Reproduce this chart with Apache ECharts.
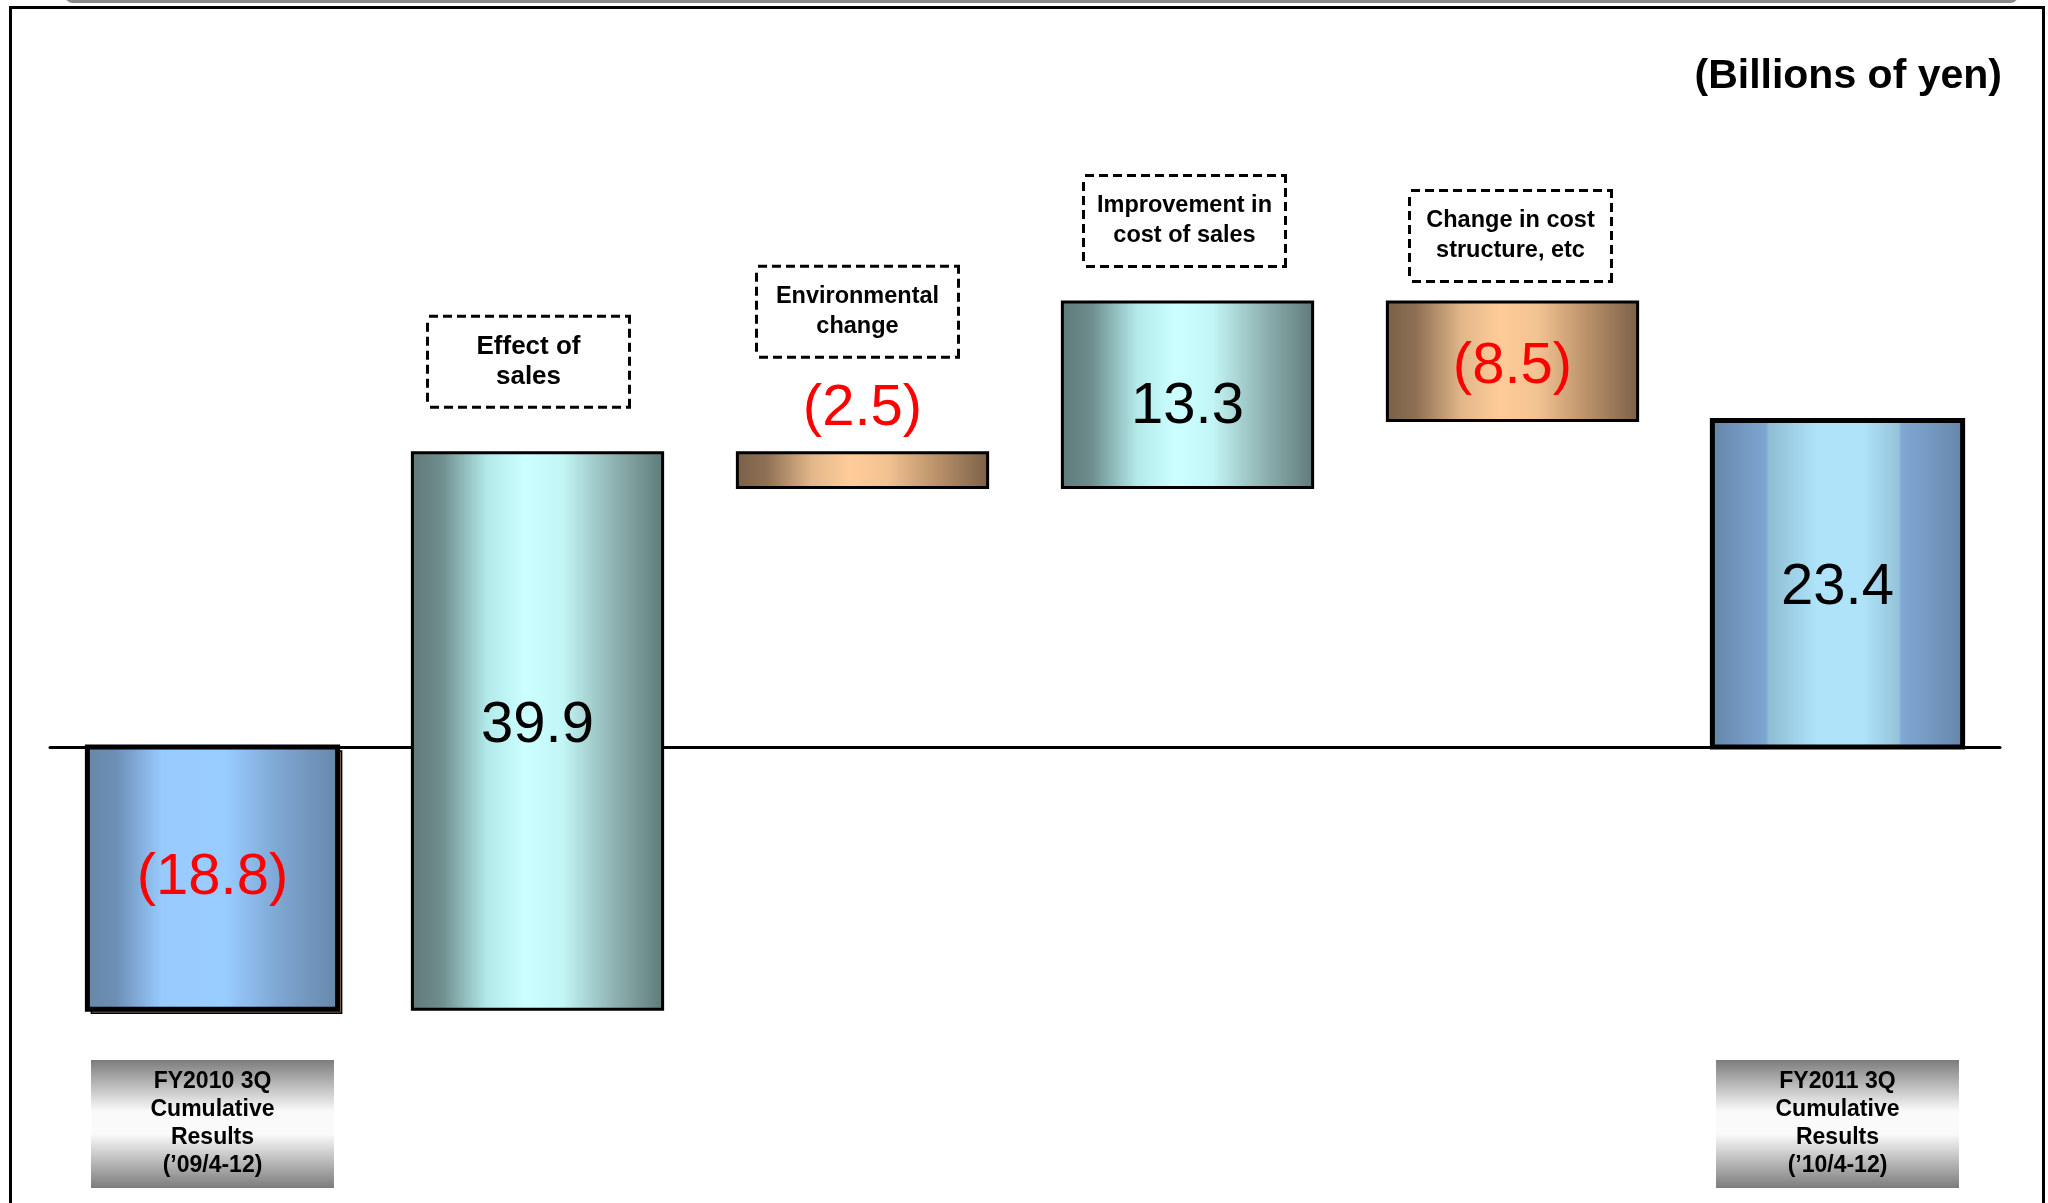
<!DOCTYPE html>
<html>
<head>
<meta charset="utf-8">
<script src="https://cdn.jsdelivr.net/npm/echarts@6/dist/echarts.min.js"></script>
<style>
html,body{margin:0;padding:0;background:#fff;}
#chart{width:2048px;height:1203px;}
</style>
</head>
<body>
<div id="chart"></div>
<script>
// ---- data ----
const categories = [
  'FY2010 3Q\nCumulative\nResults\n(\u201909/4-12)',
  'Effect of\nsales',
  'Environmental\nchange',
  'Improvement in\ncost of sales',
  'Change in cost\nstructure, etc',
  'FY2011 3Q\nCumulative\nResults\n(\u201910/4-12)'
];
const changes = [-18.8, 39.9, -2.5, 13.3, -8.5, 23.4];
const unitLabel = '(Billions of yen)';

// ---- derived waterfall ranges ----
const n = changes.length;
const ranges = [];
let running = 0;
changes.forEach(function (v, i) {
  if (i === 0 || i === n - 1) {
    ranges.push([i, 0, v]);
    running = v;
  } else {
    const lo = running;
    const hi = Math.round((running + v) * 10) / 10;
    ranges.push([i, lo, hi]);
    running = hi;
  }
});

const FONT = '"Liberation Sans", Arial, Helvetica, sans-serif';
function hg(stops) {
  return new echarts.graphic.LinearGradient(0, 0, 1, 0, stops.map(function (s) { return { offset: s[0], color: s[1] }; }));
}
const blueStart = hg([[0, '#6688AA'], [0.12, '#6C8EB4'], [0.3, '#98CAFD'], [0.55, '#99CCFF'], [0.75, '#7FA8D4'], [1, '#6586A8']]);
const blueEnd = hg([[0, '#6585A8'], [0.22, '#7DA5D2'], [0.23, '#8FBDD3'], [0.42, '#AEE3FA'], [0.6, '#AEE3FA'], [0.74, '#95C3D9'], [0.75, '#80A8D6'], [1, '#6585A8']]);
const teal = hg([[0, '#5E7A79'], [0.12, '#6E8D8C'], [0.3, '#B2E9E9'], [0.45, '#CCFFFF'], [0.6, '#C2F5F5'], [0.8, '#8FB3B2'], [1, '#5E7A79']]);
const brown = hg([[0, '#7A6048'], [0.12, '#8E7054'], [0.3, '#E2B78A'], [0.45, '#FFCC99'], [0.6, '#F2C291'], [0.8, '#B89068'], [1, '#7A6048']]);

function fmt(v) {
  return v < 0 ? '(' + Math.abs(v).toFixed(1) + ')' : v.toFixed(1);
}

// layout tuning (pixels)
const noteOffsets = { 1: [-9, -91], 2: [-5, -141], 3: [-3, -81], 4: [-2, -66] };
const noteFontSize = { 1: 26, 2: 23.5, 3: 23.5, 4: 23.5 };
const valueLabelDy = [0, -5, 0, 12, 6, 4];

const chart = echarts.init(document.getElementById('chart'), null, { renderer: 'canvas' });

const option = {
  animation: false,
  backgroundColor: '#ffffff',
  title: {
    text: unitLabel,
    right: 46,
    top: 56,
    padding: 0,
    textStyle: { fontFamily: FONT, fontSize: 41, fontWeight: 'bold', color: '#000' }
  },
  graphic: [
    { type: 'rect', z: 0, shape: { x: 65, y: -12, width: 1953, height: 15, r: 8 }, style: { fill: '#8a8a8a' } },
    { type: 'rect', z: 0, shape: { x: 10.5, y: 7.5, width: 2033, height: 1300 }, style: { fill: 'none', stroke: '#000', lineWidth: 3 } }
  ],
  grid: { left: 50, right: 48, top: 189, bottom: 149.1 },
  xAxis: [
    {
      type: 'category',
      data: categories,
      axisLine: { onZero: true, lineStyle: { color: '#000', width: 3 } },
      axisTick: { show: false },
      axisLabel: { show: false },
      splitLine: { show: false }
    },
    {
      type: 'category',
      data: categories,
      position: 'bottom',
      axisLine: { show: false, onZero: false },
      axisTick: { show: false },
      splitLine: { show: false },
      axisLabel: {
        show: true,
        interval: function (index) { return index === 0 || index === n - 1; },
        margin: 6,
        fontFamily: FONT,
        fontSize: 23,
        fontWeight: 'bold',
        color: '#000',
        lineHeight: 28,
        width: 243,
        padding: [8, 0, 8, 0],
        align: 'center',
        overflow: 'none',
        backgroundColor: new echarts.graphic.LinearGradient(0, 0, 0, 1, [
          { offset: 0, color: '#7c7c7c' },
          { offset: 0.4, color: '#fafafa' },
          { offset: 0.58, color: '#fafafa' },
          { offset: 1, color: '#7c7c7c' }
        ])
      }
    }
  ],
  yAxis: { type: 'value', min: -22, max: 40, show: false, splitLine: { show: false } },
  series: [
    {
      type: 'custom',
      name: 'waterfall',
      xAxisIndex: 0,
      yAxisIndex: 0,
      z: 3,
      encode: { x: 0, y: [1, 2] },
      data: ranges,
      renderItem: function (params, api) {
        const i = api.value(0);
        const lo = api.value(1), hi = api.value(2);
        const a = api.coord([i, Math.max(lo, hi)]);
        const b = api.coord([i, Math.min(lo, hi)]);
        const w = api.size([1, 0])[0] * 0.77;
        const x = a[0] - w / 2, y = a[1], h = b[1] - a[1];
        const isTotal = i === 0 || i === n - 1;
        const v = changes[i];
        const fill = i === 0 ? blueStart : (i === n - 1 ? blueEnd : (v > 0 ? teal : brown));
        const small = h < 60;
        const children = [];
        if (i === 0) {
          children.push({ type: 'rect', shape: { x: x + 4, y: y + 4, width: w, height: h },
            style: { fill: '#9C7A55', stroke: '#000', lineWidth: 1.5 } });
        }
        children.push({
          type: 'rect',
          shape: { x: x, y: y, width: w, height: h },
          style: { fill: fill, stroke: '#000', lineWidth: isTotal ? 5 : 3 },
          textContent: {
            style: { text: fmt(v), fill: v < 0 ? '#FF0000' : '#000', font: '58px ' + FONT }
          },
          textConfig: small ? { position: 'top', distance: 13 } : { position: 'inside', offset: [0, valueLabelDy[i]] }
        });
        return { type: 'group', children: children };
      }
    },
    {
      type: 'scatter',
      name: 'notes',
      xAxisIndex: 0,
      yAxisIndex: 0,
      z: 4,
      symbol: 'rect',
      symbolSize: 1,
      itemStyle: { color: 'rgba(0,0,0,0)', opacity: 1 },
      silent: true,
      data: ranges.filter(function (r) { return r[0] !== 0 && r[0] !== n - 1; }).map(function (r) {
        return {
          value: [r[0], Math.max(r[1], r[2])],
          label: { offset: noteOffsets[r[0]], fontSize: noteFontSize[r[0]] }
        };
      }),
      label: {
        show: true,
        opacity: 1,
        position: 'inside',
        formatter: function (p) { return categories[p.value[0]]; },
        fontFamily: FONT,
        fontSize: 23.5,
        fontWeight: 'bold',
        color: '#000',
        lineHeight: 30,
        width: 199,
        align: 'center',
        padding: [14, 0, 14, 0],
        borderColor: '#000',
        borderWidth: 3,
        borderType: [9, 5],
        backgroundColor: '#fff'
      }
    }
  ]
};
chart.setOption(option);
</script>
</body>
</html>
